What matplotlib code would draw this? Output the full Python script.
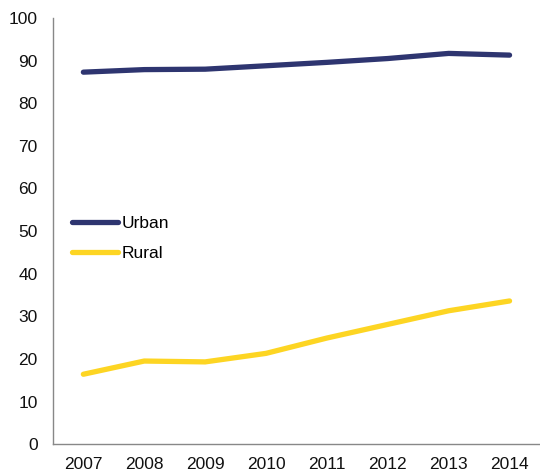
import matplotlib.pyplot as plt

years = ["2007", "2008", "2009", "2010", "2011", "2012", "2013", "2014"]
urban = [87.3, 87.9, 88.0, 88.8, 89.6, 90.5, 91.7, 91.3]
rural = [16.4, 19.5, 19.3, 21.3, 24.9, 28.1, 31.3, 33.6]

plt.rcParams['font.family'] = ['Liberation Sans', 'DejaVu Sans']

fig = plt.figure(figsize=(5.4, 4.75), dpi=100)
ax = fig.add_axes([0.098, 0.065, 0.902, 0.897])

x = range(len(years))
ax.plot(x, urban, color="#2E3570", lw=3.8, solid_capstyle="round", label="Urban")
ax.plot(x, rural, color="#FDD523", lw=3.8, solid_capstyle="round", label="Rural")

ax.set_xlim(-0.5, len(years) - 0.5)
ax.set_ylim(0, 100)
ax.set_yticks(range(0, 101, 10))
ax.set_xticks(list(x))
ax.set_xticklabels(years)
ax.tick_params(length=0, labelsize=12.5, colors="#111111")
ax.tick_params(axis="y", pad=11)
ax.tick_params(axis="x", pad=9)

for s in ["top", "right"]:
    ax.spines[s].set_visible(False)
for s in ["left", "bottom"]:
    ax.spines[s].set_color("#888888")
    ax.spines[s].set_linewidth(1)

ax.legend(loc="center left", bbox_to_anchor=(0.039, 0.4836), frameon=False,
          borderaxespad=0, borderpad=0,
          fontsize=12.5, handlelength=2.65, handletextpad=0.2, labelspacing=0.85)

fig.savefig("out.png", dpi=100)
